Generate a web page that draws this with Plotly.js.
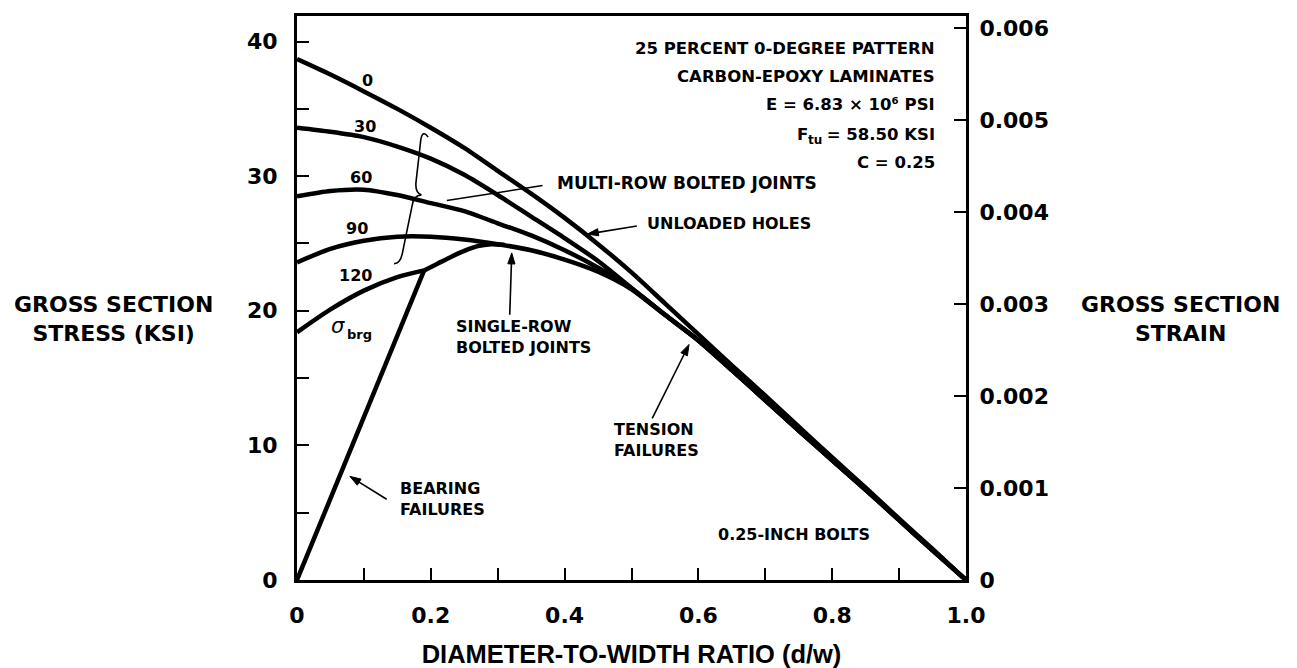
<!DOCTYPE html>
<html>
<head>
<meta charset="utf-8">
<script src="https://cdn.plot.ly/plotly-3.0.1.min.js"></script>
<style>html,body{margin:0;padding:0;background:#fff;}#chart{width:1297px;height:668px;}</style>
</head>
<body>
<div id="chart"></div>
<script>
// Modulus used for the strain (right) axis, in ksi: E = 6.83 x 10^6 psi
const E_KSI = 6830;

// Diameter-to-width ratio grid for the multi-row curves
const dwRatio = [0, 0.05, 0.1, 0.15, 0.2, 0.25, 0.3, 0.35, 0.4, 0.45, 0.5, 0.55, 0.6, 0.65, 0.7, 0.75, 0.8, 0.85, 0.9, 0.95, 1.0];
// Gross section stress (ksi) for each bearing-stress curve (0, 30, 60, 90 ksi)
const stress0  = [38.7, 37.55, 36.3, 35.0, 33.6, 32.1, 30.4, 28.7, 26.9, 24.95, 22.85, 20.55, 18.25, 15.95, 13.7, 11.4, 9.1, 6.85, 4.55, 2.3, 0];
const stress30 = [33.6, 33.3, 32.9, 32.2, 31.3, 30.1, 28.6, 27.0, 25.4, 23.7, 21.7, 19.7, 17.8, 15.6, 13.35, 11.1, 8.9, 6.7, 4.45, 2.2, 0];
const stress60 = [28.5, 28.9, 29.0, 28.6, 28.0, 27.4, 26.5, 25.6, 24.5, 23.2, 21.65, 19.7, 17.8, 15.6, 13.35, 11.1, 8.9, 6.7, 4.45, 2.2, 0];
const stress90 = [23.6, 24.6, 25.2, 25.5, 25.5, 25.3, 24.95, 24.5, 23.8, 22.9, 21.6, 19.7, 17.8, 15.6, 13.35, 11.1, 8.9, 6.7, 4.45, 2.2, 0];
// 120 ksi bearing-stress curve (ends where it meets the bearing line)
const dw120     = [0, 0.05, 0.1, 0.15, 0.19];
const stress120 = [18.4, 20.1, 21.5, 22.5, 23.0];
// Bearing failure line and single-row bolted joint curve
const bearingX   = [0, 0.19];
const bearingY   = [0, 23.0];
const singleRowX = [0.19, 0.21, 0.23, 0.25, 0.27, 0.29, 0.31];
const singleRowY = [23.0, 23.5, 24.0, 24.45, 24.8, 24.95, 24.9];

// Tick values / labels
const xTickVals = [0, 0.2, 0.4, 0.6, 0.8, 1.0];
const xTickText = ['0', '0.2', '0.4', '0.6', '0.8', '1.0'];
const xMinorVals = [0.1, 0.3, 0.5, 0.7, 0.9];
const yTickVals = [0, 10, 20, 30, 40];
const yTickText = ['0', '10', '20', '30', '40'];
const yMinorVals = [5, 15, 25, 35];
const y2TickVals = [0, 0.001, 0.002, 0.003, 0.004, 0.005, 0.006];
const y2TickText = ['0', '0.001', '0.002', '0.003', '0.004', '0.005', '0.006'];

const Y_MAX = 41.9;
const FONT = 'DejaVu Sans';
const LW = 4.5;
// plot-area size in px (for drawing arrowheads with correct proportions)
const PW = 1297 - 297 - 331, PH = 668 - 16 - 88;

function curve(x, y, shape) {
  return {x: x, y: y, type: 'scatter', mode: 'lines', hoverinfo: 'skip',
          line: {color: '#000', width: LW, shape: shape || 'spline', smoothing: 0.7}};
}

const traces = [
  curve(dwRatio, stress0),
  curve(dwRatio, stress30),
  curve(dwRatio, stress60),
  curve(dwRatio, stress90),
  curve(dw120, stress120),
  curve(bearingX, bearingY, 'linear'),
  curve(singleRowX, singleRowY),
  // invisible trace carrying the strain axis
  {x: [0, 1], y: [0, Y_MAX / E_KSI], yaxis: 'y2', type: 'scatter', mode: 'lines',
   line: {width: 0, color: 'rgba(0,0,0,0)'}, hoverinfo: 'skip'}
];

const txt = (size) => ({family: FONT, size: size, color: '#000', weight: 'bold'});

function label(text, x, y, xanchor, size, extra) {
  return Object.assign({text: text, x: x, y: y, xref: 'x', yref: 'y', showarrow: false,
          xanchor: xanchor || 'center', yanchor: 'middle', align: xanchor === 'right' ? 'right' : 'left',
          font: txt(size || 16)}, extra || {});
}

// arrow drawn as a line plus a filled head (head at hx,hy; tail at tx,ty)
function arrowShapes(hx, hy, tx, ty) {
  const sx = PW, sy = PH / Y_MAX;
  const dx = (hx - tx) * sx, dy = (hy - ty) * sy;
  const L = Math.hypot(dx, dy), ux = dx / L, uy = dy / L;
  const len = 11, hw = 3.6;
  const bx = hx * sx - ux * len, by = hy * sy - uy * len;
  const p1 = [(bx - uy * hw) / sx, (by + ux * hw) / sy];
  const p2 = [(bx + uy * hw) / sx, (by - ux * hw) / sy];
  const lx = (hx * sx - ux * (len - 2)) / sx, ly = (hy * sy - uy * (len - 2)) / sy;
  return [
    {type: 'line', xref: 'x', yref: 'y', x0: tx, y0: ty, x1: lx, y1: ly, line: {color: '#000', width: 1.6}},
    {type: 'path', xref: 'x', yref: 'y', fillcolor: '#000', line: {color: '#000', width: 1},
     path: 'M ' + hx + ',' + hy + ' L ' + p1[0] + ',' + p1[1] + ' L ' + p2[0] + ',' + p2[1] + ' Z'}
  ];
}

const NOTE_X = 0.957;
const annotations = [
  // curve labels
  label('0', 0.106, 37.1, 'center', 16),
  label('30', 0.102, 33.7, 'center', 16),
  label('60', 0.096, 29.9, 'center', 16),
  label('90', 0.09, 26.1, 'center', 16),
  label('120', 0.088, 22.6, 'center', 16),
  // sigma_brg
  {text: 'σ', x: 0.062, y: 18.9, xref: 'x', yref: 'y', showarrow: false, xanchor: 'center', yanchor: 'middle',
   font: {family: FONT, size: 21, color: '#000', style: 'italic', weight: 'normal'}},
  label('brg', 0.072, 18.25, 'left', 13),
  // notes
  label('25 PERCENT 0-DEGREE PATTERN', NOTE_X, 39.5, 'right', 16.5),
  label('CARBON-EPOXY LAMINATES', NOTE_X, 37.4, 'right', 16.5),
  label('E = 6.83 × 10⁶ PSI', NOTE_X, 35.3, 'right', 16.5),
  label(' = 58.50 KSI', NOTE_X, 33.1, 'right', 16.5),
  label('tu', NOTE_X, 33.1, 'right', 12, {xshift: -113, yshift: -6}),
  label('F', NOTE_X, 33.1, 'right', 16.5, {xshift: -127}),
  label('C = 0.25', NOTE_X, 31.0, 'right', 16.5),
  label('MULTI-ROW BOLTED JOINTS', 0.385, 29.5, 'left', 17),
  label('UNLOADED HOLES', 0.52, 26.5, 'left', 16),
  label('SINGLE-ROW<br>BOLTED JOINTS', 0.234, 18.05, 'left', 16),
  label('TENSION<br>FAILURES', 0.471, 10.4, 'left', 16),
  label('BEARING<br>FAILURES', 0.151, 6.0, 'left', 16),
  label('0.25-INCH BOLTS', 0.743, 3.4, 'center', 16),
  // axis side titles (horizontal)
  {text: 'GROSS SECTION<br>STRESS (KSI)', xref: 'paper', yref: 'paper', x: -0.275, y: 0.462,
   xanchor: 'center', yanchor: 'middle', showarrow: false, align: 'center', font: txt(22)},
  {text: 'GROSS SECTION<br>STRAIN', xref: 'paper', yref: 'paper', x: 1.32, y: 0.462,
   xanchor: 'center', yanchor: 'middle', showarrow: false, align: 'center', font: txt(22)}
];

const shapes = [
  // brace grouping the multi-row curves
  {type: 'path', xref: 'x', yref: 'y', line: {color: '#000', width: 1.6},
   path: 'M 0.196,32.9 Q 0.188,33.5 0.185,32.7 L 0.178,29.6 Q 0.176,28.8 0.186,28.6 ' +
         'Q 0.174,28.6 0.172,27.8 L 0.158,24.4 Q 0.155,23.5 0.145,23.5'},
  // leader from brace to "MULTI-ROW BOLTED JOINTS"
  {type: 'line', xref: 'x', yref: 'y', x0: 0.224, y0: 28.2, x1: 0.367, y1: 29.3,
   line: {color: '#000', width: 1.5}}
].concat(
  arrowShapes(0.434, 25.7, 0.508, 26.3),   // unloaded holes
  arrowShapes(0.321, 24.3, 0.318, 19.7),   // single-row
  arrowShapes(0.586, 17.5, 0.531, 12.0),   // tension
  arrowShapes(0.079, 7.7, 0.134, 6.0)      // bearing
);

const axisCommon = {
  showgrid: false, zeroline: false, showline: true, linecolor: '#000', linewidth: 3,
  ticks: 'inside', ticklen: 12, tickwidth: 2, tickcolor: '#000',
  tickfont: txt(22), fixedrange: true
};
const minorTicks = (vals) => ({tickmode: 'array', tickvals: vals, ticks: 'inside', ticklen: 12,
                               tickwidth: 2, tickcolor: '#000', showgrid: false});

const layout = {
  width: 1297, height: 668,
  margin: {l: 297, r: 331, t: 16, b: 88, pad: 0},
  paper_bgcolor: '#fff', plot_bgcolor: '#fff',
  showlegend: false,
  font: {family: FONT, color: '#000', weight: 'bold'},
  xaxis: Object.assign({}, axisCommon, {
    range: [0, 1], tickmode: 'array', tickvals: xTickVals, ticktext: xTickText,
    minor: minorTicks(xMinorVals),
    mirror: true, ticklabelstandoff: 14,
    title: {text: 'DIAMETER-TO-WIDTH RATIO (d/w)', standoff: 20,
            font: {family: 'Liberation Sans', size: 25.5, color: '#000', weight: 'bold'}}
  }),
  yaxis: Object.assign({}, axisCommon, {
    range: [0, Y_MAX], tickmode: 'array', tickvals: yTickVals, ticktext: yTickText,
    minor: minorTicks(yMinorVals),
    ticklabelstandoff: 12
  }),
  yaxis2: Object.assign({}, axisCommon, {
    overlaying: 'y', side: 'right', range: [0, Y_MAX / E_KSI],
    tickmode: 'array', tickvals: y2TickVals, ticktext: y2TickText,
    ticklabelstandoff: 6
  }),
  annotations: annotations,
  shapes: shapes
};

Plotly.newPlot('chart', traces, layout, {displayModeBar: false, staticPlot: true});
</script>
</body>
</html>
